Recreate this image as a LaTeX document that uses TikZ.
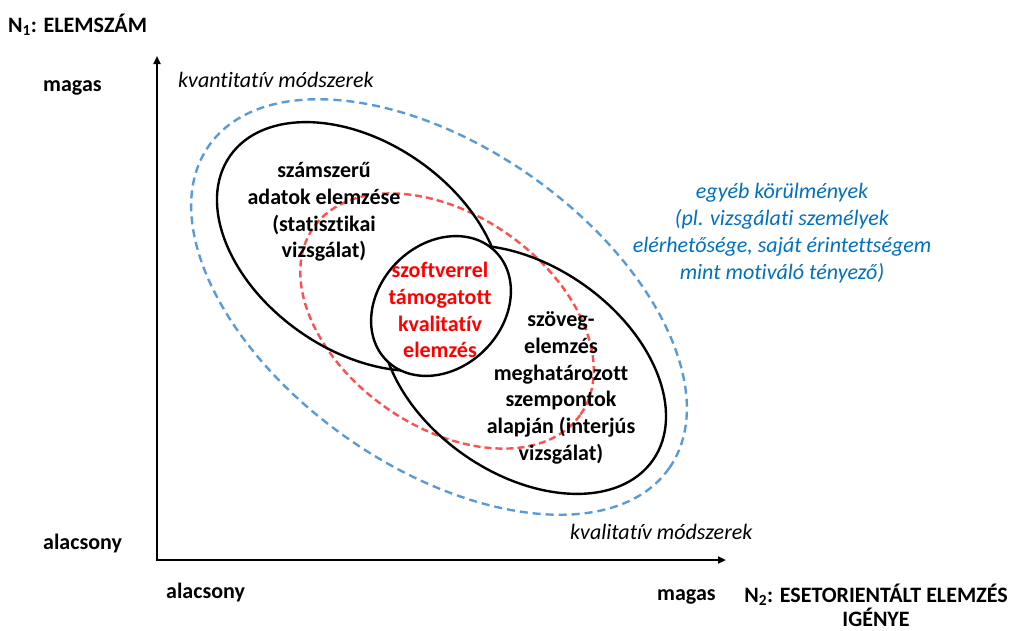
\documentclass[tikz,border=0pt]{standalone}
\usepackage{fontspec}
\setmainfont{Carlito}[RawFeature={-liga}]
\usetikzlibrary{arrows.meta}
\definecolor{ablue}{RGB}{91,155,213}
\definecolor{tblue}{RGB}{0,112,192}
\definecolor{dred}{RGB}{255,80,80}
\definecolor{tred}{RGB}{255,0,0}
\begin{document}
\begin{tikzpicture}[x=1pt,y=-1pt,
  lbl/.style={font=\fontsize{22}{26.8}\selectfont\bfseries, inner sep=0pt},
  blk/.style={font=\fontsize{22}{26.8}\selectfont\bfseries, align=center, inner sep=0pt},
  itl/.style={font=\fontsize{22}{26.8}\selectfont\itshape, inner sep=0pt},
  bluedash/.style={draw=ablue, line width=2.4pt, dash pattern=on 8pt off 5pt},
  reddash/.style={draw=dred, line width=2.4pt, dash pattern=on 7pt off 4pt},
  blackring/.style={draw=black, line width=2.4pt},
  axis/.style={draw=black, line width=2.4pt, {Triangle[length=8pt,width=7pt]}-{Triangle[length=8pt,width=7pt]}}
]
\useasboundingbox (0,0) rectangle (1014,630);
% axes
\coordinate (ytop) at (157,56);
\coordinate (xend) at (726,560);
\draw[axis] (ytop) |- (xend);
% ellipses
\coordinate (cb) at (439,307);
\coordinate (cr) at (447,321);
\coordinate (c1) at (359.5,246.5);
\coordinate (c2) at (523.5,369.5);
\coordinate (cs) at (441,306);
\draw[bluedash, rotate around={-35:(cb)}] (cb) ellipse [x radius=281pt, y radius=160pt];
\draw[reddash, rotate around={-35:(cr)}] (cr) ellipse [x radius=163pt, y radius=106pt];
\draw[blackring, rotate around={-35:(c1)}] (c1) ellipse [x radius=158pt, y radius=104pt];
\draw[blackring, rotate around={-35:(c2)}] (c2) ellipse [x radius=158pt, y radius=104pt];
\draw[blackring, fill=white, rotate around={45:(cs)}] (cs) ellipse [x radius=77pt, y radius=62pt];
% texts
\node[blk] (t1) at (324,212) {számszerű\\adatok elemzése\\(statisztikai\\vizsgálat)};
\node[blk, text=tred] (t2) at (440,310) {szoftverrel\\támogatott\\kvalitatív\\elemzés};
\node[blk] (t3) at (561,388) {szöveg-\\elemzés\\meghatározott\\szempontok\\alapján (interjús\\vizsgálat)};
\node[itl, text=tblue, align=center] (t4) at (782,233) {egyéb körülmények\\(pl. vizsgálati személyek\\elérhetősége, saját érintettségem\\mint motiváló tényező)};
\node[itl, anchor=west] (kq) at (178,80) {kvantitatív módszerek};
\node[itl, anchor=west] (kl) at (570,532) {kvalitatív módszerek};
\node[lbl, anchor=west] (n1) at (8,25) {N\textsubscript{1}: ELEMSZÁM};
\node[lbl, anchor=west] (ym) at (43,88) {magas};
\node[lbl, anchor=west] (ya) at (43,543) {alacsony};
\node[lbl, anchor=west] (xa) at (166,592) {alacsony};
\node[lbl, anchor=west] (xm) at (657,597) {magas};
\node[blk, font=\fontsize{22}{24}\selectfont\bfseries] (n2) at (876,605) {N\textsubscript{2}: ESETORIENTÁLT ELEMZÉS\\IGÉNYE};
\end{tikzpicture}
\end{document}
